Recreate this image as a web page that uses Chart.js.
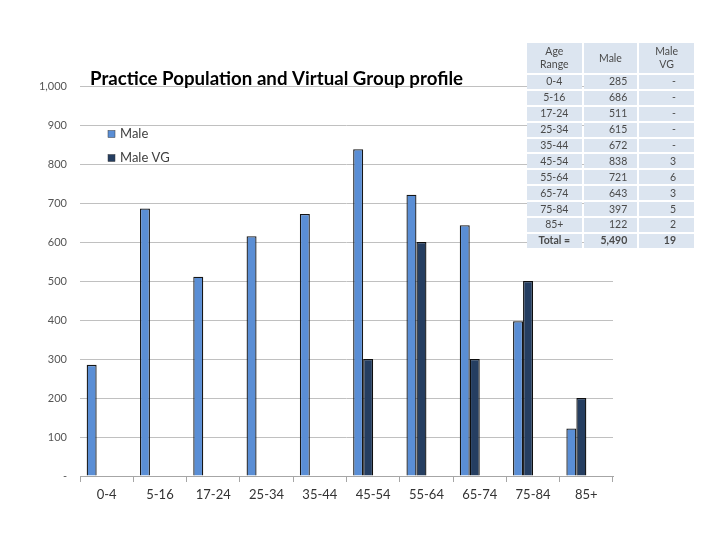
<!DOCTYPE html>
<html>
<head>
<meta charset="utf-8">
<script src="https://cdn.jsdelivr.net/npm/chart.js@4.4.0/dist/chart.umd.min.js"></script>
<style>
  body { margin: 0; background: #fff; }
  #wrap { position: relative; width: 720px; height: 540px; }
  #wrap canvas { position: absolute; left: 0; top: 0; }
  #summary {
    position: absolute; left: 525px; top: 41px;
    border-collapse: separate; border-spacing: 2px;
    table-layout: fixed; width: 171px;
    font-family: Lato, "Open Sans", sans-serif; font-size: 10.5px; color: #4a4a4a;
  }
  #summary td { background: #dce5f0; height: 13.9px; padding: 0 4px; line-height: 13px; }
  #summary tr.head td { height: 30px; text-align: center; line-height: 13px; }
  #summary td.age { text-align: center; }
  #summary td.num { text-align: right; padding-right: 10px; }
  #summary td.vg { text-align: right; padding-right: 18px; }
  #summary tr.total td { font-weight: bold; }
</style>
</head>
<body>
<div id="wrap">
  <canvas id="chart" width="720" height="540"></canvas>
  <table id="summary"></table>
</div>
<script>
const ageRanges = ["0-4", "5-16", "17-24", "25-34", "35-44", "45-54", "55-64", "65-74", "75-84", "85+"]
const male = [285, 686, 511, 615, 672, 838, 721, 643, 397, 122]
const maleVG = [null, null, null, null, null, 3, 6, 3, 5, 2]
// the VG counts were plotted on the population axis at x100
const vgPlotScale = 100

const titleText = "Practice Population and Virtual Group profile"
const maleColor = "#5a8ed5"
const vgColor = "#253e61"

// --- table on the right ---
const fmt = v => v.toLocaleString("en-US")
const table = document.getElementById("summary")
let rows = `<colgroup><col style="width:54px"><col style="width:53px"><col style="width:54px"></colgroup>`
rows += `<tr class="head"><td>Age<br>Range</td><td>Male</td><td>Male<br>VG</td></tr>`
ageRanges.forEach((age, i) => {
  rows += `<tr><td class="age">${age}</td><td class="num">${fmt(male[i])}</td><td class="vg">${maleVG[i] == null ? "-" : maleVG[i]}</td></tr>`
})
const totalMale = male.reduce((a, b) => a + b, 0)
const totalVG = maleVG.reduce((a, b) => a + (b || 0), 0)
rows += `<tr class="total"><td class="age">Total =</td><td class="num">${fmt(totalMale)}</td><td class="vg">${totalVG}</td></tr>`
table.innerHTML = rows

// title + legend drawn straight onto the canvas
const decorations = {
  id: "decorations",
  afterDatasetsDraw(chart) {
    const ctx = chart.ctx
    ctx.save()
    ctx.fillStyle = "#000"
    ctx.font = "bold 19px Lato, 'Open Sans', sans-serif"
    ctx.textBaseline = "alphabetic"
    ctx.textAlign = "left"
    ctx.fillText(titleText, 90, 85, 373)

    const items = chart.data.datasets.filter(d => d.label)
    ctx.font = "13px Lato, 'Open Sans', sans-serif"
    ctx.textBaseline = "middle"
    items.forEach((d, i) => {
      const y = 134 + i * 24
      ctx.fillStyle = d.backgroundColor
      ctx.fillRect(108, y - 3.5, 7, 7)
      ctx.strokeStyle = "#3a3a3a"
      ctx.lineWidth = 0.5
      ctx.strokeRect(108, y - 3.5, 7, 7)
      ctx.fillStyle = "#404040"
      ctx.fillText(d.label, 120, y)
    })
    ctx.restore()
  }
}

new Chart(document.getElementById("chart"), {
  type: "bar",
  data: {
    labels: ageRanges,
    datasets: [
      { label: "Male", data: male, backgroundColor: maleColor, borderColor: "#161616", borderWidth: 1.3 },
      { label: "Male VG", data: maleVG.map(v => v == null ? null : v * vgPlotScale), backgroundColor: vgColor, borderColor: "#0d0d0d", borderWidth: 1.3 },
      // empty slots kept from the original workbook (female series), they only reserve space
      { label: "", data: [], backgroundColor: "transparent" },
      { label: "", data: [], backgroundColor: "transparent" }
    ]
  },
  options: {
    responsive: false,
    animation: false,
    layout: { padding: { left: 30, right: 107, top: 86, bottom: 24 } },
    datasets: { bar: { categoryPercentage: 0.75, barPercentage: 1 } },
    plugins: {
      legend: { display: false },
      title: { display: false },
      tooltip: { enabled: false }
    },
    scales: {
      x: {
        afterFit: s => { s.height = 40 },
        grid: { display: true, drawOnChartArea: false, drawTicks: true, tickLength: 6, color: "#a6a6a6", offset: true },
        border: { display: true, color: "#a6a6a6" },
        ticks: { color: "#333", font: { family: "Lato, 'Open Sans', sans-serif", size: 13 }, padding: 5, maxRotation: 0 }
      },
      y: {
        min: 0,
        max: 1000,
        afterFit: s => { s.width = 50 },
        grid: { color: "#c0c0c0", drawTicks: false },
        border: { display: false },
        ticks: {
          stepSize: 100,
          padding: 13,
          color: "#555",
          font: { family: "Lato, 'Open Sans', sans-serif", size: 11 },
          callback: v => v === 0 ? "-" : fmt(v)
        }
      }
    }
  },
  plugins: [decorations]
})
</script>
</body>
</html>
